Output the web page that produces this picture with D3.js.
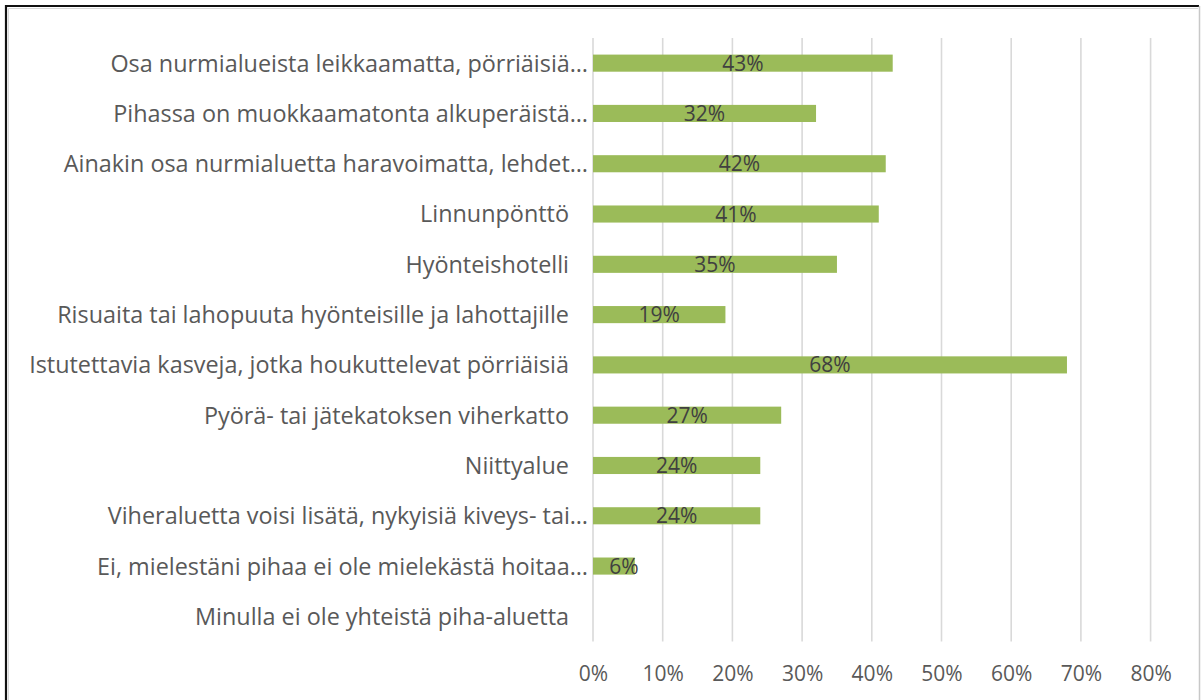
<!DOCTYPE html>
<html>
<head>
<meta charset="utf-8">
<script src="https://cdn.jsdelivr.net/npm/d3@7"></script>
<style>
  html, body { margin: 0; padding: 0; background: #fff; }
  svg { display: block; }
</style>
</head>
<body>
<svg id="chart" width="1201" height="700"></svg>
<script>
const categories = [
  "Osa nurmialueista leikkaamatta, pörriäisiä…",
  "Pihassa on muokkaamatonta alkuperäistä…",
  "Ainakin osa nurmialuetta haravoimatta, lehdet…",
  "Linnunpönttö",
  "Hyönteishotelli",
  "Risuaita tai lahopuuta hyönteisille ja lahottajille",
  "Istutettavia kasveja, jotka houkuttelevat pörriäisiä",
  "Pyörä- tai jätekatoksen viherkatto",
  "Niittyalue",
  "Viheraluetta voisi lisätä, nykyisiä kiveys- tai…",
  "Ei, mielestäni pihaa ei ole mielekästä hoitaa…",
  "Minulla ei ole yhteistä piha-aluetta"
];
const values = [43, 32, 42, 41, 35, 19, 68, 27, 24, 24, 6, null];
const xTicks = [0, 10, 20, 30, 40, 50, 60, 70, 80];

const svg = d3.select("#chart");
const FONT = "'Open Sans', 'Noto Sans', sans-serif";

// frame
svg.append("rect").attr("x", 0).attr("y", 0).attr("width", 1201).attr("height", 700).attr("fill", "#fff");
svg.append("path").attr("d", "M6,700 V6 H1199").attr("fill", "none").attr("stroke", "#111").attr("stroke-width", 2.2);
svg.append("path").attr("d", "M8.5,700 V8.5 H1198").attr("fill", "none").attr("stroke", "#d8d8d8").attr("stroke-width", 1);
svg.append("line").attr("x1", 1199.5).attr("x2", 1199.5).attr("y1", 6).attr("y2", 700).attr("stroke", "#c8c8c8").attr("stroke-width", 1.5);

const plot = { left: 593, right: 1150.6, top: 38, bottom: 641.5 };

const x = d3.scaleLinear().domain([0, 80]).range([plot.left, plot.right]);
const y = d3.scaleBand().domain(categories).range([plot.top, plot.bottom]).paddingInner(0.66).paddingOuter(0.33);

// gridlines
svg.append("g").selectAll("line").data(xTicks).join("line")
  .attr("x1", d => x(d)).attr("x2", d => x(d))
  .attr("y1", plot.top).attr("y2", plot.bottom)
  .attr("stroke", "#d9d9d9").attr("stroke-width", 1.6);

// x tick labels
const xAxis = d3.axisBottom(x).tickValues(xTicks).tickFormat(d => d + "%").tickSize(0).tickPadding(0);
const gx = svg.append("g").attr("transform", `translate(0,${plot.bottom})`).call(xAxis);
gx.select(".domain").remove();
gx.selectAll("text")
  .attr("y", 39).attr("dy", 0)
  .attr("fill", "#595959")
  .style("font-family", FONT).style("font-size", "21px");

// bars
svg.append("g").selectAll("rect").data(categories.map((c, i) => ({ c, v: values[i] })).filter(d => d.v != null)).join("rect")
  .attr("x", x(0))
  .attr("y", d => y(d.c))
  .attr("width", d => x(d.v) - x(0))
  .attr("height", y.bandwidth())
  .attr("fill", "#9bbb59");

// value labels
svg.append("g").selectAll("text").data(categories.map((c, i) => ({ c, v: values[i] })).filter(d => d.v != null)).join("text")
  .attr("x", d => (x(0) + x(d.v)) / 2 + (d.v < 10 ? 10 : 0))
  .attr("y", d => y(d.c) + y.bandwidth() / 2)
  .attr("dy", "0.36em")
  .attr("text-anchor", "middle")
  .attr("fill", "#404040")
  .style("font-family", FONT).style("font-size", "21px")
  .text(d => d.v + "%");

// category labels
const yAxis = d3.axisLeft(y).tickSize(0).tickPadding(0);
const gy = svg.append("g").attr("transform", `translate(${plot.left},0)`).call(yAxis);
gy.select(".domain").remove();
gy.selectAll("text")
  .attr("x", d => d.endsWith("…") ? -5 : -24)
  .attr("dy", "0.36em")
  .attr("fill", "#595959")
  .style("font-family", FONT).style("font-size", "23.4px");
</script>
</body>
</html>
